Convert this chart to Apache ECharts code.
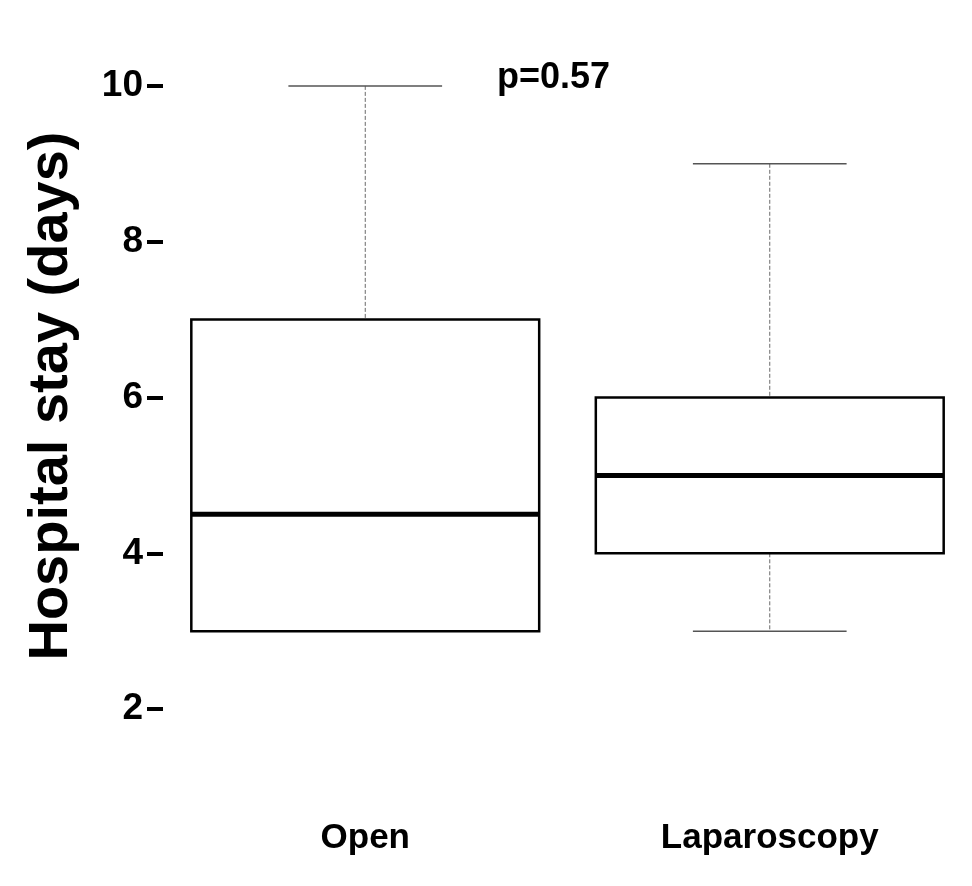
<!DOCTYPE html>
<html>
<head>
<meta charset="utf-8">
<script src="https://cdn.jsdelivr.net/npm/echarts@6/dist/echarts.min.js"></script>
<style>
html,body{margin:0;padding:0;background:#fff;}
#chart{width:972px;height:886px;}
</style>
</head>
<body>
<div id="chart"></div>
<script>
const categories = ['Open', 'Laparoscopy'];
const whiskerLow = [3, 3];
const q1 = [3, 4];
const median = [4.5, 5];
const q3 = [7, 6];
const whiskerHigh = [10, 9];
const yTicks = [2, 4, 6, 8, 10];
const yTitle = 'Hospital stay (days)';
const pValueLabel = 'p=0.57';

const boxData = categories.map((c, i) => [i, whiskerLow[i], q1[i], median[i], q3[i], whiskerHigh[i]]);
const FONT = 'Liberation Sans, Arial, Helvetica, sans-serif';

const chart = echarts.init(document.getElementById('chart'), null, {renderer: 'canvas'});

function renderBox(params, api) {
  const idx = api.value(0);
  const band = api.size([1, 0])[0];
  const boxW = band * 0.86;
  const capW = band * 0.38;
  const pLow = api.coord([idx, api.value(1)]);
  const pQ1 = api.coord([idx, api.value(2)]);
  const pMed = api.coord([idx, api.value(3)]);
  const pQ3 = api.coord([idx, api.value(4)]);
  const pHigh = api.coord([idx, api.value(5)]);
  const cx = pLow[0];
  const whiskerStyle = {stroke: '#6a6a6a', lineWidth: 1, lineDash: [4, 2]};
  const capStyle = {stroke: '#555', lineWidth: 1.5};
  const children = [];
  if (pQ3[1] - pHigh[1] > 0.5) {
    children.push({type: 'line', shape: {x1: cx, y1: pHigh[1], x2: cx, y2: pQ3[1]}, style: whiskerStyle});
  }
  if (pLow[1] - pQ1[1] > 0.5) {
    children.push({type: 'line', shape: {x1: cx, y1: pQ1[1], x2: cx, y2: pLow[1]}, style: whiskerStyle});
  }
  children.push({type: 'line', shape: {x1: cx - capW / 2, y1: pHigh[1], x2: cx + capW / 2, y2: pHigh[1]}, style: capStyle});
  children.push({type: 'line', shape: {x1: cx - capW / 2, y1: pLow[1], x2: cx + capW / 2, y2: pLow[1]}, style: capStyle});
  children.push({type: 'rect', shape: {x: cx - boxW / 2, y: pQ3[1], width: boxW, height: pQ1[1] - pQ3[1]},
    style: {fill: '#fff', stroke: '#000', lineWidth: 2.5}});
  children.push({type: 'line', shape: {x1: cx - boxW / 2, y1: pMed[1], x2: cx + boxW / 2, y2: pMed[1]},
    style: {stroke: '#000', lineWidth: 5}});
  return {type: 'group', children: children};
}

chart.setOption({
  animation: false,
  backgroundColor: '#fff',
  grid: {left: 163, right: -9, top: 8, bottom: 99, containLabel: false},
  xAxis: {
    type: 'category',
    data: categories,
    boundaryGap: true,
    axisLine: {show: false},
    axisTick: {show: false},
    splitLine: {show: false},
    axisLabel: {fontSize: 35, fontWeight: 'bold', color: '#000', fontFamily: FONT, margin: 34}
  },
  yAxis: {
    type: 'value',
    min: 1,
    max: 11,
    axisLine: {show: false},
    splitLine: {show: false},
    axisTick: {show: true, customValues: yTicks, length: 16, lineStyle: {color: '#000', width: 4}},
    axisLabel: {customValues: yTicks, fontSize: 37, fontWeight: 'bold', color: '#000', fontFamily: FONT, margin: 20}
  },
  graphic: [
    {type: 'text', x: 52, y: 396, rotation: Math.PI / 2,
      style: {text: yTitle, font: 'bold 56px ' + FONT, fill: '#000', textAlign: 'center', textVerticalAlign: 'middle'}},
    {type: 'text', x: 497, y: 78,
      style: {text: pValueLabel, font: 'bold 36px ' + FONT, fill: '#000', textAlign: 'left', textVerticalAlign: 'middle'}}
  ],
  series: [{
    type: 'custom',
    renderItem: renderBox,
    data: boxData,
    encode: {x: 0, y: [1, 2, 3, 4, 5]},
    clip: false
  }]
});
</script>
</body>
</html>
